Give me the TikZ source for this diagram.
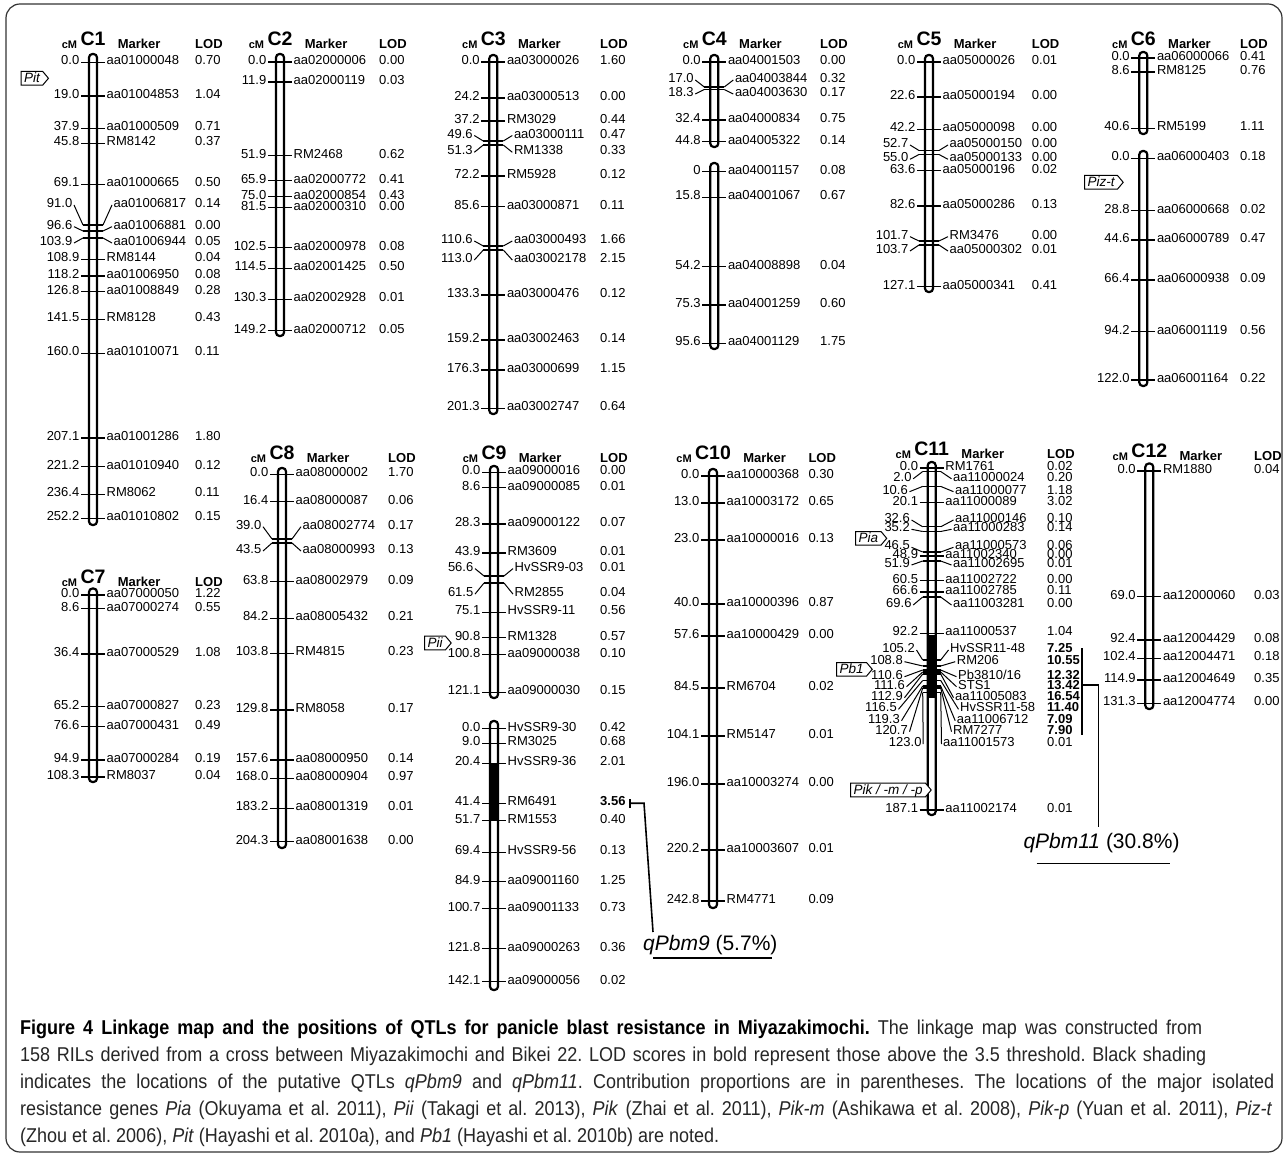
\documentclass[tikz,border=0pt]{standalone}
\usepackage{fontspec}
\usepackage{graphicx}
\setmainfont{Liberation Sans}
\usetikzlibrary{shapes.symbols}

\newcount\nodeidx
\tikzset{
  lbl/.style={inner sep=0pt, font=\fontsize{13}{13}\selectfont},
  hdr/.style={inner sep=0pt, font=\bfseries\fontsize{13}{13}\selectfont},
  hdrcm/.style={inner sep=0pt, font=\bfseries\fontsize{11}{11}\selectfont},
  chrname/.style={inner sep=0pt, font=\bfseries\fontsize{19.5}{19.5}\selectfont},
  chrbar/.style={draw, line width=2.2pt, fill=white, rounded corners=3.5pt},
  tickline/.style={line width=1.3pt},
  leader/.style={line width=1pt},
  tag/.style={draw, line width=1pt, fill=white, shape=signal, signal from=nowhere, signal to=east,
    signal pointer angle=100, inner xsep=3pt, inner ysep=1.8pt, text height=9.5pt, text depth=0.5pt,
    font=\itshape\fontsize{13.5}{13.5}\selectfont},
  qtl/.style={line width=1.6pt},
  qlab/.style={inner sep=0pt, font=\fontsize{21}{21}\selectfont},
  captxt/.style={inner sep=0pt, anchor=base west, text=black!85, font=\capfont},
  frame/.style={draw=black!80, line width=1.2pt, rounded corners=14pt},
}
\newcommand{\capfont}{\fontsize{20}{20}\selectfont\frenchspacing}
\newcommand{\mycapA}{\textcolor{black}{\textbf{Figure 4 Linkage map and the positions of QTLs for panicle blast resistance in Miyazakimochi.}} The linkage map was constructed from}
\newcommand{\mycapB}{158 RILs derived from a cross between Miyazakimochi and Bikei 22. LOD scores in bold represent those above the 3.5 threshold. Black shading}
\newcommand{\mycapC}{indicates the locations of the putative QTLs \textit{qPbm9} and \textit{qPbm11}. Contribution proportions are in parentheses. The locations of the major isolated}
\newcommand{\mycapD}{resistance genes \textit{Pia} (Okuyama et al. 2011), \textit{Pii} (Takagi et al. 2013), \textit{Pik} (Zhai et al. 2011), \textit{Pik-m} (Ashikawa et al. 2008), \textit{Pik-p} (Yuan et al. 2011), \textit{Piz-t}}
\newcommand{\mycapE}{(Zhou et al. 2006), \textit{Pit} (Hayashi et al. 2010a), and \textit{Pb1} (Hayashi et al. 2010b) are noted.}

% straight marker row: X, y, cM, marker, LOD, LODx
\newcommand{\mapS}[6]{%
  \draw[tickline] (#1-12,#2) -- (#1+12,#2);
  \global\advance\nodeidx by 1
  \node[lbl,anchor=mid east] (cm\the\nodeidx) at (#1-13.5,#2) {#3};
  \node[lbl,anchor=mid west] (mk\the\nodeidx) at (#1+13.5,#2) {#4};
  \node[lbl,anchor=mid west] (ld\the\nodeidx) at (#6,#2) {#5};
}
% bent marker row: X, tickY, labelY, cM, marker, LOD, LODx
\newcommand{\mapB}[7]{%
  \draw[tickline] (#1-10,#2) -- (#1+10,#2);
  \draw[leader] (#1-19,#3) -- (#1-10,#2);
  \draw[leader] (#1+10,#2) -- (#1+19,#3);
  \global\advance\nodeidx by 1
  \node[lbl,anchor=mid east] (cm\the\nodeidx) at (#1-20.5,#3) {#4};
  \node[lbl,anchor=mid west] (mk\the\nodeidx) at (#1+20.5,#3) {#5};
  \node[lbl,anchor=mid west] (ld\the\nodeidx) at (#7,#3) {#6};
}
% general bent row: X, tickY, labelY, cM, cMend, marker, markerStart, LOD, LODx
\newcommand{\mapG}[9]{%
  \draw[tickline] (#1-9,#2) -- (#1+9,#2);
  \draw[leader] (#5+1.5,#3) -- (#1-9,#2);
  \draw[leader] (#1+9,#2) -- (#7-1.5,#3);
  \global\advance\nodeidx by 1
  \node[lbl,anchor=mid east] (cm\the\nodeidx) at (#5,#3) {#4};
  \node[lbl,anchor=mid west] (mk\the\nodeidx) at (#7,#3) {#6};
  \node[lbl,anchor=mid west] (ld\the\nodeidx) at (#9,#3) {#8};
}
\newcommand{\mapBar}[3]{\draw[chrbar] (#1-4,#2) rectangle (#1+4,#3);}
\newcommand{\mapQ}[3]{\fill (#1-4,#2) rectangle (#1+4,#3);}
% header: X, baseline, name, LODx
\newcommand{\mapH}[4]{%
  \node[chrname,anchor=base] (h#3) at (#1,#2-3) {#3};
  \node[hdrcm,anchor=base east,xshift=-3pt,yshift=-3pt] (hcm#3) at (h#3.base west) {cM};
  \node[hdr,anchor=base west,xshift=12pt,yshift=-3pt] (hmk#3) at (h#3.base east) {Marker};
  \node[hdr,anchor=base west] (hld#3) at (#4,#2) {LOD};
}

\begin{document}
\pgfmathsetmacro\capS{0.9}%
\pgfmathsetmacro\wA{1182/\capS}%
\pgfmathsetmacro\wB{1186/\capS}%
\pgfmathsetmacro\wC{1254/\capS}%
\pgfmathsetmacro\wD{1252/\capS}%
\begin{tikzpicture}[x=1pt,y=-1pt]
\useasboundingbox (0,0) rectangle (1285,1155);
\fill[white] (0,0) rectangle (1285,1155);
\draw[frame] (6,4) rectangle (1282,1152);

% ---------------- bars ----------------
\mapBar{93}{54}{525}
\mapBar{93}{588.5}{782}
\mapBar{280}{54}{336}
\mapBar{282}{468}{848}
\mapBar{493.3}{55}{414}
\mapBar{494}{466}{698}
\mapBar{494}{721}{990}
\mapQ{494}{763.2}{821}
\mapBar{714.3}{55}{147}
\mapBar{714.3}{163}{349}
\mapBar{713}{469}{908}
\mapBar{929}{55}{292}
\mapBar{931.7}{462}{815}
\mapQ{931.7}{635}{698}
\mapBar{1143.3}{52}{134}
\mapBar{1143.3}{151}{386}
\mapBar{1149.3}{463.5}{709}

% ---------------- C1 ----------------
\mapH{93}{48.5}{C1}{195}
\mapS{93}{62.3}{0.0}{aa01000048}{0.70}{195}
\mapS{93}{96}{19.0}{aa01004853}{1.04}{195}
\mapS{93}{128.3}{37.9}{aa01000509}{0.71}{195}
\mapS{93}{143.3}{45.8}{RM8142}{0.37}{195}
\mapS{93}{184.3}{69.1}{aa01000665}{0.50}{195}
\mapB{93}{225}{205}{91.0}{aa01006817}{0.14}{195}
\mapB{93}{231}{226.7}{96.6}{aa01006881}{0.00}{195}
\mapB{93}{238}{243}{103.9}{aa01006944}{0.05}{195}
\mapS{93}{259.3}{108.9}{RM8144}{0.04}{195}
\mapS{93}{276}{118.2}{aa01006950}{0.08}{195}
\mapS{93}{291.7}{126.8}{aa01008849}{0.28}{195}
\mapS{93}{319.3}{141.5}{RM8128}{0.43}{195}
\mapS{93}{353.3}{160.0}{aa01010071}{0.11}{195}
\mapS{93}{438}{207.1}{aa01001286}{1.80}{195}
\mapS{93}{466.7}{221.2}{aa01010940}{0.12}{195}
\mapS{93}{494.3}{236.4}{RM8062}{0.11}{195}
\mapS{93}{518.3}{252.2}{aa01010802}{0.15}{195}
\node[tag,anchor=west] (tagPit) at (20.5,78.3) {Pit};

% ---------------- C7 ----------------
\mapH{93}{586}{C7}{195}
\mapS{93}{595}{0.0}{aa07000050}{1.22}{195}
\mapS{93}{608.5}{8.6}{aa07000274}{0.55}{195}
\mapS{93}{654}{36.4}{aa07000529}{1.08}{195}
\mapS{93}{706.7}{65.2}{aa07000827}{0.23}{195}
\mapS{93}{726.7}{76.6}{aa07000431}{0.49}{195}
\mapS{93}{760}{94.9}{aa07000284}{0.19}{195}
\mapS{93}{777}{108.3}{RM8037}{0.04}{195}

% ---------------- C2 ----------------
\mapH{280}{48.5}{C2}{379}
\mapS{280}{62}{0.0}{aa02000006}{0.00}{379}
\mapS{280}{82}{11.9}{aa02000119}{0.03}{379}
\mapS{280}{155.7}{51.9}{RM2468}{0.62}{379}
\mapS{280}{180.7}{65.9}{aa02000772}{0.41}{379}
\mapS{280}{196.7}{75.0}{aa02000854}{0.43}{379}
\mapS{280}{207.7}{81.5}{aa02000310}{0.00}{379}
\mapS{280}{247.7}{102.5}{aa02000978}{0.08}{379}
\mapS{280}{268.3}{114.5}{aa02001425}{0.50}{379}
\mapS{280}{299.3}{130.3}{aa02002928}{0.01}{379}
\mapS{280}{330.7}{149.2}{aa02000712}{0.05}{379}

% ---------------- C8 ----------------
\mapH{282}{462}{C8}{388}
\mapS{282}{474.3}{0.0}{aa08000002}{1.70}{388}
\mapS{282}{501.7}{16.4}{aa08000087}{0.06}{388}
\mapB{282}{539}{526.7}{39.0}{aa08002774}{0.17}{388}
\mapB{282}{543}{551}{43.5}{aa08000993}{0.13}{388}
\mapS{282}{581.7}{63.8}{aa08002979}{0.09}{388}
\mapS{282}{618.3}{84.2}{aa08005432}{0.21}{388}
\mapS{282}{653.3}{103.8}{RM4815}{0.23}{388}
\mapS{282}{710}{129.8}{RM8058}{0.17}{388}
\mapS{282}{760}{157.6}{aa08000950}{0.14}{388}
\mapS{282}{778.3}{168.0}{aa08000904}{0.97}{388}
\mapS{282}{808.3}{183.2}{aa08001319}{0.01}{388}
\mapS{282}{841.7}{204.3}{aa08001638}{0.00}{388}

% ---------------- C3 ----------------
\mapH{493.3}{48.5}{C3}{600}
\mapS{493.3}{62}{0.0}{aa03000026}{1.60}{600}
\mapS{493.3}{98}{24.2}{aa03000513}{0.00}{600}
\mapS{493.3}{121}{37.2}{RM3029}{0.44}{600}
\mapB{493.3}{141}{135.5}{49.6}{aa03000111}{0.47}{600}
\mapB{493.3}{145}{152.3}{51.3}{RM1338}{0.33}{600}
\mapS{493.3}{176}{72.2}{RM5928}{0.12}{600}
\mapS{493.3}{206.7}{85.6}{aa03000871}{0.11}{600}
\mapB{493.3}{246}{241}{110.6}{aa03000493}{1.66}{600}
\mapB{493.3}{250}{260}{113.0}{aa03002178}{2.15}{600}
\mapS{493.3}{295}{133.3}{aa03000476}{0.12}{600}
\mapS{493.3}{340}{159.2}{aa03002463}{0.14}{600}
\mapS{493.3}{370}{176.3}{aa03000699}{1.15}{600}
\mapS{493.3}{408.3}{201.3}{aa03002747}{0.64}{600}

% ---------------- C9 ----------------
\mapH{494}{462}{C9}{600}
\mapS{494}{472.3}{0.0}{aa09000016}{0.00}{600}
\mapS{494}{487.5}{8.6}{aa09000085}{0.01}{600}
\mapS{494}{523.9}{28.3}{aa09000122}{0.07}{600}
\mapS{494}{553}{43.9}{RM3609}{0.01}{600}
\mapB{494}{576}{568.6}{56.6}{HvSSR9-03}{0.01}{600}
\mapB{494}{583}{594.1}{61.5}{RM2855}{0.04}{600}
\mapS{494}{612.3}{75.1}{HvSSR9-11}{0.56}{600}
\mapS{494}{637.7}{90.8}{RM1328}{0.57}{600}
\mapS{494}{654.8}{100.8}{aa09000038}{0.10}{600}
\mapS{494}{692.3}{121.1}{aa09000030}{0.15}{600}
\mapS{494}{728.6}{0.0}{HvSSR9-30}{0.42}{600}
\mapS{494}{743.2}{9.0}{RM3025}{0.68}{600}
\mapS{494}{763.2}{20.4}{HvSSR9-36}{2.01}{600}
\mapS{494}{803.2}{41.4}{RM6491}{\textbf{3.56}}{600}
\mapS{494}{820.6}{51.7}{RM1553}{0.40}{600}
\mapS{494}{852.3}{69.4}{HvSSR9-56}{0.13}{600}
\mapS{494}{881.4}{84.9}{aa09001160}{1.25}{600}
\mapS{494}{908.6}{100.7}{aa09001133}{0.73}{600}
\mapS{494}{948.6}{121.8}{aa09000263}{0.36}{600}
\mapS{494}{981.4}{142.1}{aa09000056}{0.02}{600}
\node[tag,anchor=west] (tagPii) at (424,643) {Pii};
% qPbm9
\coordinate (q9top) at (630,799);
\coordinate (q9bot) at (630,807.5);
\coordinate (q9mid) at (630,803.2);
\coordinate (q9corner) at (644,803.2);
\coordinate (q9end) at (653,932);
\draw[qtl] (q9top) -- (q9bot);
\draw[qtl] (q9mid) -- (q9corner) -- (q9end);
\node[qlab,anchor=west] (qPbm9) at (643,945) {\textit{qPbm9} (5.7\%)};
\coordinate (q9u1) at (653,957.7);
\coordinate (q9u2) at (772,957.7);
\draw[qtl] (q9u1) -- (q9u2);

% ---------------- C4 ----------------
\mapH{714.3}{48.5}{C4}{820}
\mapS{714.3}{62}{0.0}{aa04001503}{0.00}{820}
\mapB{714.3}{87}{80}{17.0}{aa04003844}{0.32}{820}
\mapB{714.3}{89.5}{94}{18.3}{aa04003630}{0.17}{820}
\mapS{714.3}{120}{32.4}{aa04000834}{0.75}{820}
\mapS{714.3}{141.7}{44.8}{aa04005322}{0.14}{820}
\mapS{714.3}{171.7}{0}{aa04001157}{0.08}{820}
\mapS{714.3}{197.3}{15.8}{aa04001067}{0.67}{820}
\mapS{714.3}{266.7}{54.2}{aa04008898}{0.04}{820}
\mapS{714.3}{305}{75.3}{aa04001259}{0.60}{820}
\mapS{714.3}{343.3}{95.6}{aa04001129}{1.75}{820}

% ---------------- C10 ----------------
\mapH{713}{462}{C10}{808.3}
\mapS{713}{476}{0.0}{aa10000368}{0.30}{808.3}
\mapS{713}{503}{13.0}{aa10003172}{0.65}{808.3}
\mapS{713}{540}{23.0}{aa10000016}{0.13}{808.3}
\mapS{713}{604}{40.0}{aa10000396}{0.87}{808.3}
\mapS{713}{636}{57.6}{aa10000429}{0.00}{808.3}
\mapS{713}{688}{84.5}{RM6704}{0.02}{808.3}
\mapS{713}{736}{104.1}{RM5147}{0.01}{808.3}
\mapS{713}{784}{196.0}{aa10003274}{0.00}{808.3}
\mapS{713}{850}{220.2}{aa10003607}{0.01}{808.3}
\mapS{713}{901}{242.8}{RM4771}{0.09}{808.3}

% ---------------- C5 ----------------
\mapH{929}{48.5}{C5}{1031.7}
\mapS{929}{62}{0.0}{aa05000026}{0.01}{1031.7}
\mapS{929}{97}{22.6}{aa05000194}{0.00}{1031.7}
\mapS{929}{129.3}{42.2}{aa05000098}{0.00}{1031.7}
\mapB{929}{150.5}{145}{52.7}{aa05000150}{0.00}{1031.7}
\mapB{929}{154.5}{159.3}{55.0}{aa05000133}{0.00}{1031.7}
\mapS{929}{170.7}{63.6}{aa05000196}{0.02}{1031.7}
\mapS{929}{206}{82.6}{aa05000286}{0.13}{1031.7}
\mapB{929}{241}{236.7}{101.7}{RM3476}{0.00}{1031.7}
\mapB{929}{245}{251}{103.7}{aa05000302}{0.01}{1031.7}
\mapS{929}{286.7}{127.1}{aa05000341}{0.41}{1031.7}

% ---------------- C11 ----------------
\mapH{931.7}{458}{C11}{1047}
\mapS{931.7}{468}{0.0}{RM1761}{0.02}{1047}
\mapG{931.7}{471.5}{478.8}{2.0}{911.7}{aa11000024}{953}{0.20}{1047}
\mapG{931.7}{486.4}{491.7}{10.6}{908}{aa11000077}{955}{1.18}{1047}
\mapS{931.7}{502.7}{20.1}{aa11000089}{3.02}{1047}
\mapG{931.7}{526.8}{520}{32.6}{910}{aa11000146}{955}{0.10}{1047}
\mapG{931.7}{531.5}{529.3}{35.2}{910}{aa11000283}{953}{0.14}{1047}
\mapG{931.7}{552}{547.3}{46.5}{910}{aa11000573}{955}{0.06}{1047}
\mapS{931.7}{556}{48.9}{aa11002340}{0.00}{1047}
\mapG{931.7}{561}{565}{51.9}{910}{aa11002695}{953}{0.01}{1047}
\mapS{931.7}{580.7}{60.5}{aa11002722}{0.00}{1047}
\mapS{931.7}{592}{66.6}{aa11002785}{0.11}{1047}
\mapG{931.7}{597}{605}{69.6}{911.7}{aa11003281}{953}{0.00}{1047}
\mapS{931.7}{633.3}{92.2}{aa11000537}{1.04}{1047}
\mapG{931.7}{660}{650}{105.2}{915}{HvSSR11-48}{950}{\textbf{7.25}}{1047}
\mapG{931.7}{666}{661.7}{108.8}{903}{RM206}{956.7}{\textbf{10.55}}{1047}
\mapG{931.7}{670}{676.7}{110.6}{903}{Pb3810/16}{958}{\textbf{12.32}}{1047}
\mapG{931.7}{672}{686.7}{111.6}{905}{STS1}{958}{\textbf{13.42}}{1047}
\mapG{931.7}{674}{697.7}{112.9}{903}{aa11005083}{955}{\textbf{16.54}}{1047}
\mapG{931.7}{680.5}{709.3}{116.5}{897}{HvSSR11-58}{960}{\textbf{11.40}}{1047}
\mapG{931.7}{686}{720.7}{119.3}{900}{aa11006712}{956.7}{\textbf{7.09}}{1047}
\mapG{931.7}{688}{731.7}{120.7}{908}{RM7277}{953}{\textbf{7.90}}{1047}
\mapG{931.7}{692.5}{744}{123.0}{921.7}{aa11001573}{943}{0.01}{1047}
\mapS{931.7}{810}{187.1}{aa11002174}{0.01}{1047}
\node[tag,anchor=west] (tagPia) at (855,538.3) {Pia};
\node[tag,anchor=west] (tagPb1) at (836,669.3) {Pb1};
\node[tag,anchor=west] (tagPik) at (850,790) {Pik / -m / -p};
% qPbm11
\coordinate (q11a) at (1081.7,648.3);
\coordinate (q11b) at (1081.7,735);
\coordinate (q11m) at (1081.7,685);
\coordinate (q11c) at (1098.3,685);
\coordinate (q11e) at (1098.3,827);
\draw[qtl] (q11a) -- (q11b);
\draw[qtl] (q11m) -- (q11c) -- (q11e);
\node[qlab,anchor=west] (qPbm11) at (1023.3,843.3) {\textit{qPbm11} (30.8\%)};
\coordinate (q11u1) at (1036.7,863.3);
\coordinate (q11u2) at (1170,863.3);
\draw[qtl] (q11u1) -- (q11u2);

% ---------------- C6 ----------------
\mapH{1143.3}{48.5}{C6}{1240}
\mapS{1143.3}{58}{0.0}{aa06000066}{0.41}{1240}
\mapS{1143.3}{72}{8.6}{RM8125}{0.76}{1240}
\mapS{1143.3}{128.3}{40.6}{RM5199}{1.11}{1240}
\mapS{1143.3}{158.3}{0.0}{aa06000403}{0.18}{1240}
\mapS{1143.3}{210.7}{28.8}{aa06000668}{0.02}{1240}
\mapS{1143.3}{240}{44.6}{aa06000789}{0.47}{1240}
\mapS{1143.3}{280}{66.4}{aa06000938}{0.09}{1240}
\mapS{1143.3}{331.7}{94.2}{aa06001119}{0.56}{1240}
\mapS{1143.3}{380}{122.0}{aa06001164}{0.22}{1240}
\node[tag,anchor=west] (tagPizt) at (1084,182.3) {Piz-t};

% ---------------- C12 ----------------
\mapH{1149.3}{460}{C12}{1254}
\mapS{1149.3}{471}{0.0}{RM1880}{0.04}{1254}
\mapS{1149.3}{596.7}{69.0}{aa12000060}{0.03}{1254}
\mapS{1149.3}{640}{92.4}{aa12004429}{0.08}{1254}
\mapS{1149.3}{658.3}{102.4}{aa12004471}{0.18}{1254}
\mapS{1149.3}{680}{114.9}{aa12004649}{0.35}{1254}
\mapS{1149.3}{703.3}{131.3}{aa12004774}{0.00}{1254}

% ---------------- caption ----------------
\node[captxt] (cap1) at (20,1034) {\scalebox{\capS}[1]{\makebox[\wA pt][s]{\mycapA}}};
\node[captxt] (cap2) at (20,1061) {\scalebox{\capS}[1]{\makebox[\wB pt][s]{\mycapB}}};
\node[captxt] (cap3) at (20,1088) {\scalebox{\capS}[1]{\makebox[\wC pt][s]{\mycapC}}};
\node[captxt] (cap4) at (20,1115) {\scalebox{\capS}[1]{\makebox[\wD pt][s]{\mycapD}}};
\node[captxt] (cap5) at (20,1142) {\scalebox{\capS}[1]{\mycapE}};
\end{tikzpicture}
\end{document}
